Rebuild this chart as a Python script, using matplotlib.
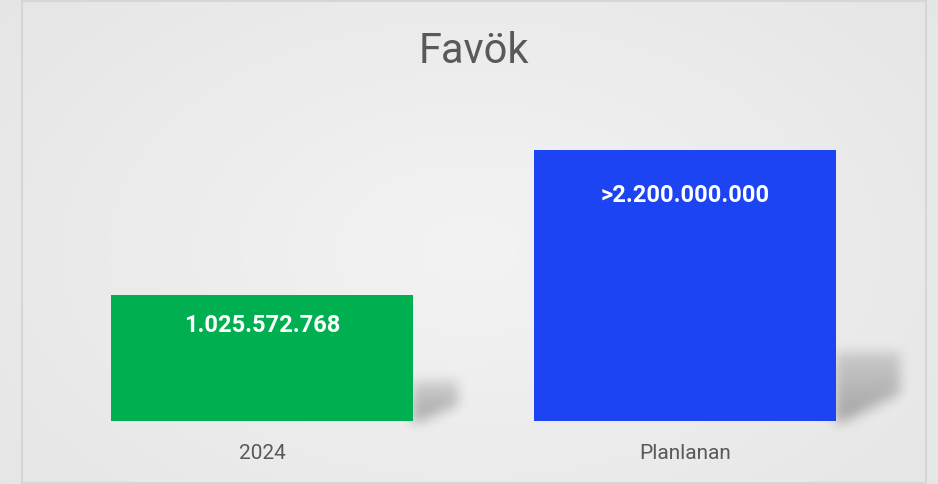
import matplotlib
matplotlib.use('Agg')
import matplotlib.pyplot as plt
import numpy as np

plt.rcParams['font.family'] = ['Roboto', 'DejaVu Sans']

categories = ['2024', 'Planlanan']
values = [1025572768, 2200000000]
value_labels = ['1.025.572.768', '>2.200.000.000']
bar_colors = ['#00b050', '#1c44f2']
title = 'Favök'

W, H = 938, 485
fig = plt.figure(figsize=(W / 100, H / 100), dpi=100)

# background: soft radial gradient + chart border
bg = fig.add_axes([0, 0, 1, 1])
bg.set_xlim(0, W)
bg.set_ylim(H, 0)
bg.axis('off')
yy, xx = np.mgrid[0:H, 0:W]
r = np.sqrt(((xx - 470) / 520.0) ** 2 + ((yy - 250) / 330.0) ** 2)
shade = np.clip(0.953 - 0.045 * r, 0.89, 0.96)
bg.imshow(np.dstack([shade] * 3), extent=(0, W, H, 0), aspect='auto', zorder=0)
bg.add_patch(plt.Rectangle((21.5, 1.5), 904, 482, fill=False,
                           edgecolor='#d6d6d6', linewidth=1.5, zorder=1))

ax = fig.add_axes([50.5 / W, (H - 422) / H, 846 / W, 292 / H])
ax.patch.set_alpha(0)
x = np.arange(len(categories))
bars = ax.bar(x, values, width=0.714, color=bar_colors, zorder=3)
ax.set_xlim(-0.5, len(categories) - 0.5)
ax.set_ylim(0, 2.37e9)
ax.set_xticks(x)
ax.set_xticklabels(categories, fontsize=15, color='#595959')
ax.tick_params(axis='x', length=0, pad=16)
ax.set_yticks([])
for s in ax.spines.values():
    s.set_visible(False)

# soft perspective shadows to the right of each bar
mask = np.zeros((H, W))
for b in bars:
    (x0, y0), (x1, y1) = ax.transData.transform([(b.get_x(), 0),
                                                 (b.get_x() + b.get_width(), b.get_height())])
    base = H - y0
    hpx = y1 - y0
    h_s = 15 + 0.2 * hpx
    w_s = 28 + 0.13 * hpx
    h = base - yy
    d = xx - x1
    reach = np.where(h >= 0.4 * h_s, w_s,
                     0.12 * w_s + (w_s - 0.12 * w_s) * h / (0.4 * h_s))
    inside = (h >= 0) & (h <= h_s) & (d >= -2) & (d <= reach)
    strength = 0.45 + 0.55 * np.clip(1 - h / h_s, 0, 1)
    mask = np.maximum(mask, inside * strength)

k = np.exp(-0.5 * (np.arange(-18, 19) / 6.0) ** 2)
k /= k.sum()
mask = np.apply_along_axis(lambda v: np.convolve(v, k, mode='same'), 0, mask)
mask = np.apply_along_axis(lambda v: np.convolve(v, k, mode='same'), 1, mask)
shadow = np.zeros((H, W, 4))
shadow[..., 3] = 0.3 * mask
bg.imshow(shadow, extent=(0, W, H, 0), aspect='auto', zorder=2)

pads = [30, 45]
for b, lab, p in zip(bars, value_labels, pads):
    ax.annotate(lab, (b.get_x() + b.get_width() / 2, b.get_height()),
                xytext=(0, -p * 0.72), textcoords='offset points',
                ha='center', va='center', fontsize=17, fontweight='bold',
                color='white', zorder=4)

fig.text(474 / W, 1 - 52 / H, title, ha='center', va='center',
         fontsize=30, color='#595959')

fig.savefig('out.png', dpi=100)
